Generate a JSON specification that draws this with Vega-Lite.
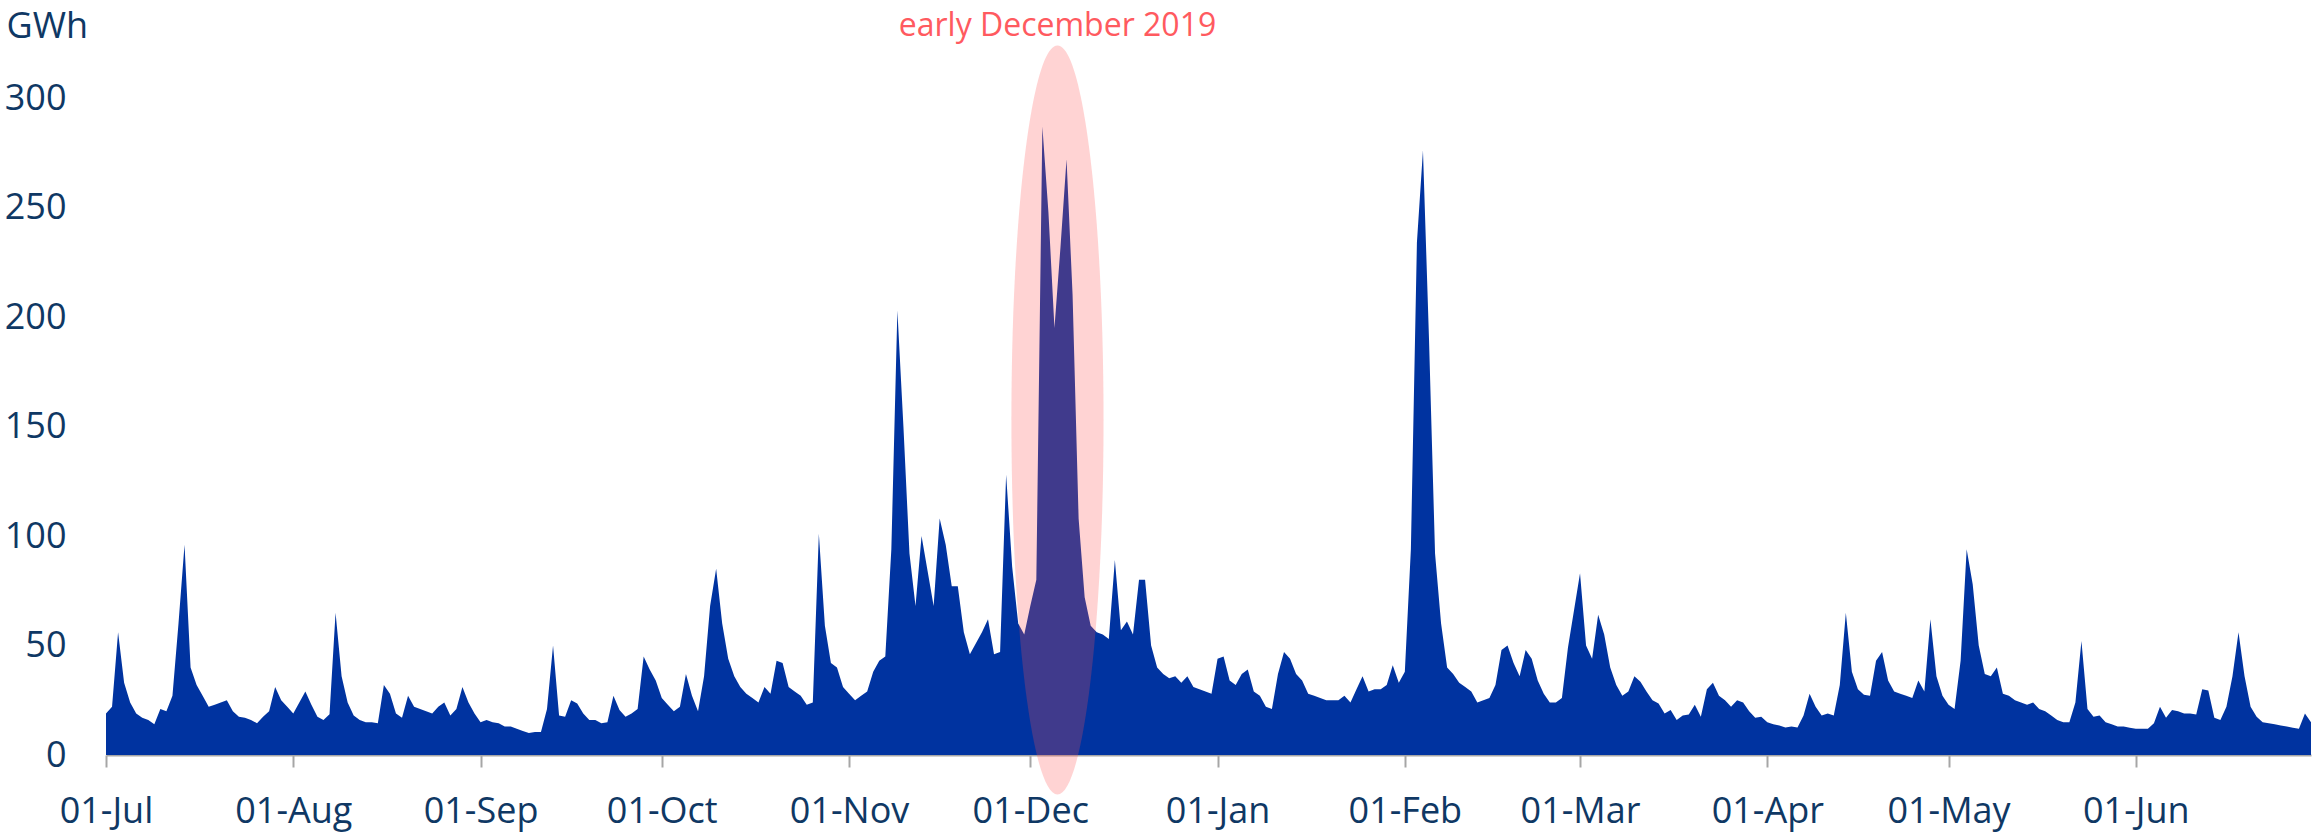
{
  "$schema": "https://vega.github.io/schema/vega-lite/v6.json",
  "autosize": {"type": "none"},
  "padding": {"left": 106, "top": 98, "right": 2, "bottom": 77},
  "width": 2205,
  "height": 657,
  "background": "white",
  "config": {"view": {"stroke": null}},
  "layer": [
    {
      "data": {"values": [
        {"date":"2019-07-01","gwh":19},{"date":"2019-07-02","gwh":22},{"date":"2019-07-03","gwh":56},{"date":"2019-07-04","gwh":33},{"date":"2019-07-05","gwh":24},{"date":"2019-07-06","gwh":19},{"date":"2019-07-07","gwh":17},{"date":"2019-07-08","gwh":16},{"date":"2019-07-09","gwh":14},{"date":"2019-07-10","gwh":21},{"date":"2019-07-11","gwh":20},{"date":"2019-07-12","gwh":27},{"date":"2019-07-13","gwh":60},{"date":"2019-07-14","gwh":96},{"date":"2019-07-15","gwh":40},{"date":"2019-07-16","gwh":32},{"date":"2019-07-17","gwh":27},{"date":"2019-07-18","gwh":22},{"date":"2019-07-19","gwh":23},{"date":"2019-07-20","gwh":24},{"date":"2019-07-21","gwh":25},{"date":"2019-07-22","gwh":20},{"date":"2019-07-23","gwh":17.5},{"date":"2019-07-24","gwh":17},{"date":"2019-07-25","gwh":16},{"date":"2019-07-26","gwh":14.5},{"date":"2019-07-27","gwh":17.5},{"date":"2019-07-28","gwh":20},{"date":"2019-07-29","gwh":31},{"date":"2019-07-30","gwh":25},{"date":"2019-07-31","gwh":22},
        {"date":"2019-08-01","gwh":19},{"date":"2019-08-02","gwh":24},{"date":"2019-08-03","gwh":29},{"date":"2019-08-04","gwh":23},{"date":"2019-08-05","gwh":17.5},{"date":"2019-08-06","gwh":16},{"date":"2019-08-07","gwh":18.6},{"date":"2019-08-08","gwh":65},{"date":"2019-08-09","gwh":36},{"date":"2019-08-10","gwh":24},{"date":"2019-08-11","gwh":18},{"date":"2019-08-12","gwh":16},{"date":"2019-08-13","gwh":15},{"date":"2019-08-14","gwh":15},{"date":"2019-08-15","gwh":14.5},{"date":"2019-08-16","gwh":32},{"date":"2019-08-17","gwh":28},{"date":"2019-08-18","gwh":19},{"date":"2019-08-19","gwh":17},{"date":"2019-08-20","gwh":27},{"date":"2019-08-21","gwh":22},{"date":"2019-08-22","gwh":21},{"date":"2019-08-23","gwh":20},{"date":"2019-08-24","gwh":19},{"date":"2019-08-25","gwh":22},{"date":"2019-08-26","gwh":24},{"date":"2019-08-27","gwh":18},{"date":"2019-08-28","gwh":21},{"date":"2019-08-29","gwh":31},{"date":"2019-08-30","gwh":24},{"date":"2019-08-31","gwh":19},
        {"date":"2019-09-01","gwh":15},{"date":"2019-09-02","gwh":16},{"date":"2019-09-03","gwh":15},{"date":"2019-09-04","gwh":14.5},{"date":"2019-09-05","gwh":13},{"date":"2019-09-06","gwh":13},{"date":"2019-09-07","gwh":12},{"date":"2019-09-08","gwh":11},{"date":"2019-09-09","gwh":10},{"date":"2019-09-10","gwh":10.5},{"date":"2019-09-11","gwh":10.5},{"date":"2019-09-12","gwh":21},{"date":"2019-09-13","gwh":50},{"date":"2019-09-14","gwh":18},{"date":"2019-09-15","gwh":17.5},{"date":"2019-09-16","gwh":25},{"date":"2019-09-17","gwh":23.5},{"date":"2019-09-18","gwh":19},{"date":"2019-09-19","gwh":16},{"date":"2019-09-20","gwh":16},{"date":"2019-09-21","gwh":14.5},{"date":"2019-09-22","gwh":15},{"date":"2019-09-23","gwh":27},{"date":"2019-09-24","gwh":20.5},{"date":"2019-09-25","gwh":17.5},{"date":"2019-09-26","gwh":19},{"date":"2019-09-27","gwh":21},{"date":"2019-09-28","gwh":45},{"date":"2019-09-29","gwh":39},{"date":"2019-09-30","gwh":34},
        {"date":"2019-10-01","gwh":26},{"date":"2019-10-02","gwh":23},{"date":"2019-10-03","gwh":20},{"date":"2019-10-04","gwh":22},{"date":"2019-10-05","gwh":37},{"date":"2019-10-06","gwh":27},{"date":"2019-10-07","gwh":20},{"date":"2019-10-08","gwh":36},{"date":"2019-10-09","gwh":68},{"date":"2019-10-10","gwh":85},{"date":"2019-10-11","gwh":60},{"date":"2019-10-12","gwh":44},{"date":"2019-10-13","gwh":36},{"date":"2019-10-14","gwh":31},{"date":"2019-10-15","gwh":28},{"date":"2019-10-16","gwh":26},{"date":"2019-10-17","gwh":24},{"date":"2019-10-18","gwh":31},{"date":"2019-10-19","gwh":28},{"date":"2019-10-20","gwh":43},{"date":"2019-10-21","gwh":42},{"date":"2019-10-22","gwh":31},{"date":"2019-10-23","gwh":29},{"date":"2019-10-24","gwh":27},{"date":"2019-10-25","gwh":23},{"date":"2019-10-26","gwh":24},{"date":"2019-10-27","gwh":101},{"date":"2019-10-28","gwh":59},{"date":"2019-10-29","gwh":42},{"date":"2019-10-30","gwh":40},{"date":"2019-10-31","gwh":31},
        {"date":"2019-11-01","gwh":28},{"date":"2019-11-02","gwh":25},{"date":"2019-11-03","gwh":27},{"date":"2019-11-04","gwh":29},{"date":"2019-11-05","gwh":38},{"date":"2019-11-06","gwh":43},{"date":"2019-11-07","gwh":45},{"date":"2019-11-08","gwh":94},{"date":"2019-11-09","gwh":203},{"date":"2019-11-10","gwh":150},{"date":"2019-11-11","gwh":92},{"date":"2019-11-12","gwh":68},{"date":"2019-11-13","gwh":100},{"date":"2019-11-14","gwh":84},{"date":"2019-11-15","gwh":68},{"date":"2019-11-16","gwh":108},{"date":"2019-11-17","gwh":96},{"date":"2019-11-18","gwh":77},{"date":"2019-11-19","gwh":77},{"date":"2019-11-20","gwh":56},{"date":"2019-11-21","gwh":46},{"date":"2019-11-22","gwh":51},{"date":"2019-11-23","gwh":56},{"date":"2019-11-24","gwh":62},{"date":"2019-11-25","gwh":46},{"date":"2019-11-26","gwh":47},{"date":"2019-11-27","gwh":128},{"date":"2019-11-28","gwh":86},{"date":"2019-11-29","gwh":60},{"date":"2019-11-30","gwh":55},
        {"date":"2019-12-01","gwh":68},{"date":"2019-12-02","gwh":80},{"date":"2019-12-03","gwh":287},{"date":"2019-12-04","gwh":248},{"date":"2019-12-05","gwh":195},{"date":"2019-12-06","gwh":232},{"date":"2019-12-07","gwh":272},{"date":"2019-12-08","gwh":210},{"date":"2019-12-09","gwh":108},{"date":"2019-12-10","gwh":72},{"date":"2019-12-11","gwh":59},{"date":"2019-12-12","gwh":56},{"date":"2019-12-13","gwh":55},{"date":"2019-12-14","gwh":53},{"date":"2019-12-15","gwh":89},{"date":"2019-12-16","gwh":57},{"date":"2019-12-17","gwh":61},{"date":"2019-12-18","gwh":55},{"date":"2019-12-19","gwh":80},{"date":"2019-12-20","gwh":80},{"date":"2019-12-21","gwh":50},{"date":"2019-12-22","gwh":40},{"date":"2019-12-23","gwh":37},{"date":"2019-12-24","gwh":35},{"date":"2019-12-25","gwh":36},{"date":"2019-12-26","gwh":33},{"date":"2019-12-27","gwh":36},{"date":"2019-12-28","gwh":31},{"date":"2019-12-29","gwh":30},{"date":"2019-12-30","gwh":29},{"date":"2019-12-31","gwh":28},
        {"date":"2020-01-01","gwh":44},{"date":"2020-01-02","gwh":45},{"date":"2020-01-03","gwh":34},{"date":"2020-01-04","gwh":32},{"date":"2020-01-05","gwh":37},{"date":"2020-01-06","gwh":39},{"date":"2020-01-07","gwh":29},{"date":"2020-01-08","gwh":27},{"date":"2020-01-09","gwh":22},{"date":"2020-01-10","gwh":21},{"date":"2020-01-11","gwh":37},{"date":"2020-01-12","gwh":47},{"date":"2020-01-13","gwh":44},{"date":"2020-01-14","gwh":37},{"date":"2020-01-15","gwh":34},{"date":"2020-01-16","gwh":28},{"date":"2020-01-17","gwh":27},{"date":"2020-01-18","gwh":26},{"date":"2020-01-19","gwh":25},{"date":"2020-01-20","gwh":25},{"date":"2020-01-21","gwh":25},{"date":"2020-01-22","gwh":27},{"date":"2020-01-23","gwh":24},{"date":"2020-01-24","gwh":30},{"date":"2020-01-25","gwh":36},{"date":"2020-01-26","gwh":29},{"date":"2020-01-27","gwh":30},{"date":"2020-01-28","gwh":30},{"date":"2020-01-29","gwh":32},{"date":"2020-01-30","gwh":41},{"date":"2020-01-31","gwh":33},
        {"date":"2020-02-01","gwh":38},{"date":"2020-02-02","gwh":94},{"date":"2020-02-03","gwh":234},{"date":"2020-02-04","gwh":276},{"date":"2020-02-05","gwh":190},{"date":"2020-02-06","gwh":92},{"date":"2020-02-07","gwh":60},{"date":"2020-02-08","gwh":40},{"date":"2020-02-09","gwh":37},{"date":"2020-02-10","gwh":33},{"date":"2020-02-11","gwh":31},{"date":"2020-02-12","gwh":29},{"date":"2020-02-13","gwh":24},{"date":"2020-02-14","gwh":25},{"date":"2020-02-15","gwh":26},{"date":"2020-02-16","gwh":32},{"date":"2020-02-17","gwh":48},{"date":"2020-02-18","gwh":50},{"date":"2020-02-19","gwh":42},{"date":"2020-02-20","gwh":36},{"date":"2020-02-21","gwh":48},{"date":"2020-02-22","gwh":44},{"date":"2020-02-23","gwh":34},{"date":"2020-02-24","gwh":28},{"date":"2020-02-25","gwh":24},{"date":"2020-02-26","gwh":24},{"date":"2020-02-27","gwh":26},{"date":"2020-02-28","gwh":49},
        {"date":"2020-03-01","gwh":83},{"date":"2020-03-02","gwh":50},{"date":"2020-03-03","gwh":44},{"date":"2020-03-04","gwh":64},{"date":"2020-03-05","gwh":55},{"date":"2020-03-06","gwh":40},{"date":"2020-03-07","gwh":32},{"date":"2020-03-08","gwh":27},{"date":"2020-03-09","gwh":29},{"date":"2020-03-10","gwh":36},{"date":"2020-03-11","gwh":33.5},{"date":"2020-03-12","gwh":29},{"date":"2020-03-13","gwh":25},{"date":"2020-03-14","gwh":23.5},{"date":"2020-03-15","gwh":19},{"date":"2020-03-16","gwh":20.5},{"date":"2020-03-17","gwh":16},{"date":"2020-03-18","gwh":18},{"date":"2020-03-19","gwh":18.5},{"date":"2020-03-20","gwh":23},{"date":"2020-03-21","gwh":17.5},{"date":"2020-03-22","gwh":30},{"date":"2020-03-23","gwh":33},{"date":"2020-03-24","gwh":27},{"date":"2020-03-25","gwh":25},{"date":"2020-03-26","gwh":22},{"date":"2020-03-27","gwh":25},{"date":"2020-03-28","gwh":24},{"date":"2020-03-29","gwh":20},{"date":"2020-03-30","gwh":17},{"date":"2020-03-31","gwh":17.5},
        {"date":"2020-04-01","gwh":15},{"date":"2020-04-02","gwh":14},{"date":"2020-04-03","gwh":13.5},{"date":"2020-04-04","gwh":12.6},{"date":"2020-04-05","gwh":13},{"date":"2020-04-06","gwh":12.6},{"date":"2020-04-07","gwh":18},{"date":"2020-04-08","gwh":28},{"date":"2020-04-09","gwh":22},{"date":"2020-04-10","gwh":18},{"date":"2020-04-11","gwh":19},{"date":"2020-04-12","gwh":18},{"date":"2020-04-13","gwh":32},{"date":"2020-04-14","gwh":65},{"date":"2020-04-15","gwh":38},{"date":"2020-04-16","gwh":30},{"date":"2020-04-17","gwh":27.5},{"date":"2020-04-18","gwh":27},{"date":"2020-04-19","gwh":43},{"date":"2020-04-20","gwh":47},{"date":"2020-04-21","gwh":34},{"date":"2020-04-22","gwh":29},{"date":"2020-04-23","gwh":28},{"date":"2020-04-24","gwh":27},{"date":"2020-04-25","gwh":26},{"date":"2020-04-26","gwh":34},{"date":"2020-04-27","gwh":29},{"date":"2020-04-28","gwh":62},{"date":"2020-04-29","gwh":36},{"date":"2020-04-30","gwh":27},
        {"date":"2020-05-01","gwh":23},{"date":"2020-05-02","gwh":21},{"date":"2020-05-03","gwh":43},{"date":"2020-05-04","gwh":94},{"date":"2020-05-05","gwh":78},{"date":"2020-05-06","gwh":50},{"date":"2020-05-07","gwh":37},{"date":"2020-05-08","gwh":36},{"date":"2020-05-09","gwh":40},{"date":"2020-05-10","gwh":28},{"date":"2020-05-11","gwh":27},{"date":"2020-05-12","gwh":25},{"date":"2020-05-13","gwh":24},{"date":"2020-05-14","gwh":23},{"date":"2020-05-15","gwh":24},{"date":"2020-05-16","gwh":21},{"date":"2020-05-17","gwh":20},{"date":"2020-05-18","gwh":18},{"date":"2020-05-19","gwh":16},{"date":"2020-05-20","gwh":15},{"date":"2020-05-21","gwh":15},{"date":"2020-05-22","gwh":24},{"date":"2020-05-23","gwh":52},{"date":"2020-05-24","gwh":21},{"date":"2020-05-25","gwh":17.5},{"date":"2020-05-26","gwh":18},{"date":"2020-05-27","gwh":15},{"date":"2020-05-28","gwh":14},{"date":"2020-05-29","gwh":13},{"date":"2020-05-30","gwh":13},{"date":"2020-05-31","gwh":12.5},
        {"date":"2020-06-01","gwh":12},{"date":"2020-06-02","gwh":12},{"date":"2020-06-03","gwh":12},{"date":"2020-06-04","gwh":14.5},{"date":"2020-06-05","gwh":22},{"date":"2020-06-06","gwh":17},{"date":"2020-06-07","gwh":20.5},{"date":"2020-06-08","gwh":20},{"date":"2020-06-09","gwh":19},{"date":"2020-06-10","gwh":19},{"date":"2020-06-11","gwh":18.5},{"date":"2020-06-12","gwh":30},{"date":"2020-06-13","gwh":29.5},{"date":"2020-06-14","gwh":17},{"date":"2020-06-15","gwh":16},{"date":"2020-06-16","gwh":22},{"date":"2020-06-17","gwh":36},{"date":"2020-06-18","gwh":56},{"date":"2020-06-19","gwh":36},{"date":"2020-06-20","gwh":22},{"date":"2020-06-21","gwh":17.5},{"date":"2020-06-22","gwh":15},{"date":"2020-06-23","gwh":14.5},{"date":"2020-06-24","gwh":14},{"date":"2020-06-25","gwh":13.5},{"date":"2020-06-26","gwh":13},{"date":"2020-06-27","gwh":12.5},{"date":"2020-06-28","gwh":12},{"date":"2020-06-29","gwh":19},{"date":"2020-06-30","gwh":15}
      ]},
      "mark": {"type": "area", "color": "#0033A0", "interpolate": "linear"},
      "encoding": {
        "x": {
          "field": "date", "type": "temporal",
          "scale": {"type": "utc", "domain": [{"year": 2019, "month": 7, "date": 1, "utc": true}, {"year": 2020, "month": 6, "date": 30, "utc": true}], "nice": false},
          "axis": {
            "title": null, "grid": false,
            "tickCount": {"interval": "month", "step": 1},
            "labelExpr": "utcFormat(datum.value, '%d-%b')",
            "labelFont": "Open Sans", "labelFontSize": 36, "labelColor": "#0F3864",
            "labelFlush": false, "labelOverlap": false, "labelPadding": 27,
            "tickColor": "#A6A6A6", "tickSize": 12, "tickWidth": 2,
            "domainColor": "#A6A6A6", "domainWidth": 2
          }
        },
        "y": {
          "field": "gwh", "type": "quantitative",
          "scale": {"domain": [0, 300], "nice": false, "zero": true},
          "axis": {
            "values": [0, 50, 100, 150, 200, 250, 300],
            "grid": false, "ticks": false, "domain": false,
            "labelFont": "Open Sans", "labelFontSize": 36, "labelColor": "#0F3864", "labelPadding": 40,
            "title": "GWh", "titleAngle": 0, "titleAlign": "left", "titleBaseline": "middle",
            "titleX": -100, "titleY": -72,
            "titleFont": "Open Sans", "titleFontSize": 36, "titleFontWeight": "normal", "titleColor": "#0F3864"
          }
        }
      }
    },
    {
      "data": {"values": [{"date": "2019-12-05T12:00:00Z", "center": 153}]},
      "mark": {
        "type": "point", "filled": true, "fill": "#FF5050", "fillOpacity": 0.25, "strokeWidth": 0,
        "size": 561001,
        "shape": "M0,-1C0.0679,-1,0.123,-0.5523,0.123,0C0.123,0.5523,0.0679,1,0,1C-0.0679,1,-0.123,0.5523,-0.123,0C-0.123,-0.5523,-0.0679,-1,0,-1Z"
      },
      "encoding": {
        "x": {"field": "date", "type": "temporal"},
        "y": {"field": "center", "type": "quantitative"}
      }
    },
    {
      "data": {"values": [{"date": "2019-12-05T12:00:00Z", "pos": 333, "label": "early December 2019"}]},
      "mark": {"type": "text", "font": "Open Sans", "fontSize": 32, "color": "#FF5A5F", "align": "center", "baseline": "middle"},
      "encoding": {
        "x": {"field": "date", "type": "temporal"},
        "y": {"field": "pos", "type": "quantitative"},
        "text": {"field": "label"}
      }
    }
  ]
}
